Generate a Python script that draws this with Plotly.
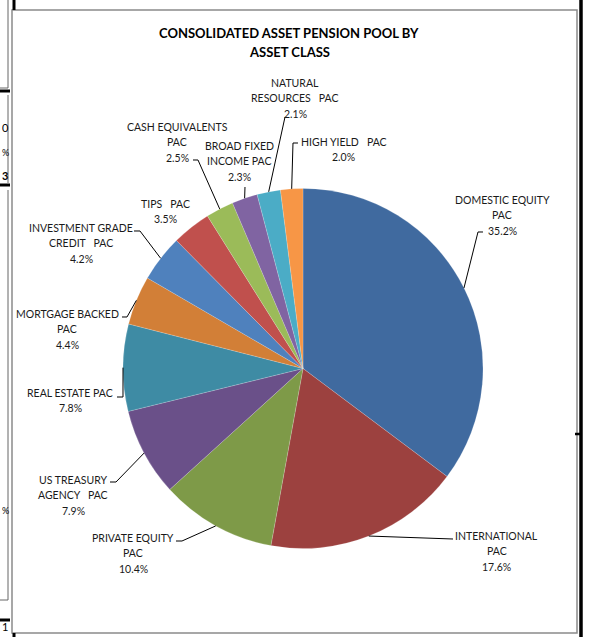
import math
import plotly.graph_objects as go

# ---------------- data ----------------
categories = [
    "DOMESTIC EQUITY PAC", "INTERNATIONAL PAC", "PRIVATE EQUITY PAC",
    "US TREASURY AGENCY PAC", "REAL ESTATE PAC", "MORTGAGE BACKED PAC",
    "INVESTMENT GRADE CREDIT PAC", "TIPS PAC", "CASH EQUIVALENTS PAC",
    "BROAD FIXED INCOME PAC", "NATURAL RESOURCES PAC", "HIGH YIELD PAC",
]
values = [35.2, 17.6, 10.4, 7.9, 7.8, 4.4, 4.2, 3.5, 2.5, 2.3, 2.1, 2.0]
NB = "\u00a0"
label_lines = [
    ["DOMESTIC EQUITY", "PAC"],
    ["INTERNATIONAL", "PAC"],
    ["PRIVATE EQUITY", "PAC"],
    ["US TREASURY", "AGENCY" + NB * 3 + "PAC"],
    ["REAL ESTATE PAC"],
    ["MORTGAGE BACKED", "PAC"],
    ["INVESTMENT GRADE", "CREDIT" + NB * 3 + "PAC"],
    ["TIPS" + NB * 3 + "PAC"],
    ["CASH EQUIVALENTS", "PAC"],
    ["BROAD FIXED", "INCOME PAC"],
    ["NATURAL", "RESOURCES" + NB * 3 + "PAC"],
    ["HIGH YIELD" + NB * 3 + "PAC"],
]
colors = [
    "#406A9F", "#9C413F", "#7E9A48", "#6A5089", "#3E8BA4", "#D27F37",
    "#4F81BD", "#C0504D", "#9BBB59", "#8064A2", "#4BACC6", "#F79646",
]
title_lines = ["CONSOLIDATED ASSET PENSION POOL BY", "ASSET CLASS"]
# fragments of neighbouring spreadsheet cells at the left edge
fragment_texts = ["0", "%", "3", "%", "1"]

# ---------------- layout constants (pixels) ----------------
W, H = 592, 637
CX, CY, R = 303, 368.5, 180
# label text centre (x, first-line y)
label_pos = [(502, 200), (497, 536), (133, 538), (73, 480), (70, 393), (67, 314),
             (81, 228), (165, 204), (177, 127), (239, 146), (295, 83), (344, 142)]
# leader line points from the label towards the slice (slice point is computed)
leader_pts = [
    [(483, 232), (478, 232)],
    [(453, 539)],
    [(176, 541), (182, 541)],
    [(110, 482), (116, 482)],
    [(117, 397), (123, 397)],
    [(122, 317), (127, 317)],
    [(134, 231), (140, 231)],
    None,
    [(193, 160), (198, 160)],
    [(245, 187)],
    [(285, 117)],
    [(298, 143), (293, 143)],
]
LINE_H = 15.4
FONT = "Lato, Carlito, Calibri, sans-serif"


def px(x):
    return x / W


def py(y):
    return 1 - y / H


fig = go.Figure()
fig.add_trace(go.Pie(
    labels=categories, values=values, sort=False, direction="clockwise",
    rotation=0, textinfo="none", hoverinfo="label+percent",
    marker=dict(colors=colors, line=dict(color="rgba(255,255,255,0.35)", width=0.5)),
    domain=dict(x=[px(CX - R), px(CX + R)], y=[py(CY + R), py(CY - R)]),
    showlegend=False,
))

annotations = []
shapes = []

# title
for i, t in enumerate(title_lines):
    annotations.append(dict(
        x=px(289), y=py(33 + i * 18.5), xref="paper", yref="paper", text="<b>%s</b>" % t,
        showarrow=False, xanchor="center", yanchor="middle",
        font=dict(family=FONT, size=13, color="#000000")))

total = sum(values)
cum = 0.0
for i, v in enumerate(values):
    frac = (cum + v / 2) / total
    cum += v
    ang = 2 * math.pi * frac
    ex = CX + R * math.sin(ang)
    ey = CY - R * math.cos(ang)
    lx, ly = label_pos[i]
    lines = label_lines[i] + ["%.1f%%" % v]
    for k, t in enumerate(lines):
        annotations.append(dict(
            x=px(lx), y=py(ly + k * LINE_H), xref="paper", yref="paper", text=t,
            showarrow=False, xanchor="center", yanchor="middle",
            font=dict(family=FONT, size=10.5, color="#1a1a1a")))
    pts = leader_pts[i]
    if pts:
        allp = pts + [(ex, ey)]
        path = "M %f %f " % (px(allp[0][0]), py(allp[0][1]))
        for (x, y) in allp[1:]:
            path += "L %f %f " % (px(x), py(y))
        shapes.append(dict(type="path", xref="paper", yref="paper", path=path,
                           line=dict(color="#000000", width=1)))

# chart frame and surrounding sheet fragments
shapes.append(dict(type="rect", xref="paper", yref="paper", x0=px(12), x1=px(577),
                   y0=py(633), y1=py(10), line=dict(color="#8a8a8a", width=1.5)))
frame_lines = [
    (581, 0, 581, 637, 3.5), (14, 0, 14, 10, 3), (14, 633, 14, 637, 3),
    (575, 434, 581, 434, 2.5),
    (0, 91, 10, 91, 3), (0, 185, 10, 185, 3), (0, 620, 10, 620, 3),
]
for x0, y0, x1, y1, w in frame_lines:
    shapes.append(dict(type="line", xref="paper", yref="paper", x0=px(x0), y0=py(y0),
                       x1=px(x1), y1=py(y1), line=dict(color="#000000", width=w)))
thin_lines = [(8, 0, 8, 88), (0, 88, 8, 88), (8, 95, 8, 183), (8, 190, 8, 600), (0, 600, 8, 600)]
for x0, y0, x1, y1 in thin_lines:
    shapes.append(dict(type="line", xref="paper", yref="paper", x0=px(x0), y0=py(y0),
                       x1=px(x1), y1=py(y1), line=dict(color="#666666", width=1)))
frag_y = [128, 152, 175, 510, 626]
frag_bold = [False, False, True, False, False]
frag_size = [11, 9, 11, 9, 11]
for t, y, b, s in zip(fragment_texts, frag_y, frag_bold, frag_size):
    annotations.append(dict(x=px(0.5), y=py(y), xref="paper", yref="paper",
                            text=("<b>%s</b>" % t) if b else t, showarrow=False,
                            xanchor="left", yanchor="middle", borderpad=0,
                            font=dict(family=FONT, size=s, color="#000")))

fig.update_layout(
    width=W, height=H, margin=dict(l=0, r=0, t=0, b=0),
    paper_bgcolor="white", plot_bgcolor="white",
    annotations=annotations, shapes=shapes,
)
fig.write_html("out.html", config={"displayModeBar": False},
               post_script="document.body.style.margin='0';")
